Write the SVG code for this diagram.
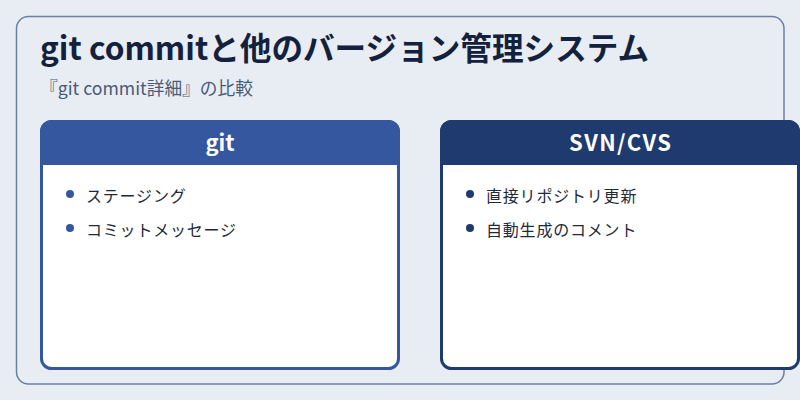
<svg xmlns="http://www.w3.org/2000/svg" width="800" height="400" viewBox="0 0 800 400">
<style>
.jp{font-family:"Noto Sans CJK JP","Noto Sans",sans-serif}
.title{font-size:31.6px;font-weight:700;fill:#14213d}
.sub{font-size:17.7px;fill:#4a5b78}
.head{font-size:22px;font-weight:700;fill:#ffffff}
.item{font-size:16px;fill:#1e2a3a;letter-spacing:0.8px}
</style>
<rect x="0" y="0" width="800" height="400" fill="#e8edf3"/>
<rect x="16.5" y="16.5" width="767.5" height="367.5" rx="12" fill="#e8edf3" stroke="#6a7fa8" stroke-width="1.5"/>
<text class="jp title" x="40" y="60">git commitと他のバージョン管理システム</text>
<text class="jp sub" x="40" y="95">『git commit詳細』の比較</text>
<g id="git">
<rect x="41.5" y="121.5" width="357" height="247" rx="10" fill="#ffffff" stroke="#3557a0" stroke-width="3"/>
<path d="M40 165 V132 A12 12 0 0 1 52 120 H388 A12 12 0 0 1 400 132 V165 Z" fill="#3557a0"/>
<text class="jp head" x="220" y="151" text-anchor="middle">git</text>
<circle cx="70" cy="194" r="4" fill="#3557a0"/>
<text class="jp item" x="86" y="202">ステージング</text>
<circle cx="70" cy="228" r="4" fill="#3557a0"/>
<text class="jp item" x="86" y="236">コミットメッセージ</text>
</g>
<g id="svn">
<rect x="441.5" y="121.5" width="357" height="247" rx="10" fill="#ffffff" stroke="#1f3a6e" stroke-width="3"/>
<path d="M440 165 V132 A12 12 0 0 1 452 120 H788 A12 12 0 0 1 800 132 V165 Z" fill="#1f3a6e"/>
<text class="jp head" x="620.7" y="151" text-anchor="middle" letter-spacing="1.4">SVN/CVS</text>
<circle cx="470" cy="194" r="4" fill="#1f3a6e"/>
<text class="jp item" x="486" y="202">直接リポジトリ更新</text>
<circle cx="470" cy="228" r="4" fill="#1f3a6e"/>
<text class="jp item" x="486" y="236">自動生成のコメント</text>
</g>
<g id="connectors"></g>
</svg>
